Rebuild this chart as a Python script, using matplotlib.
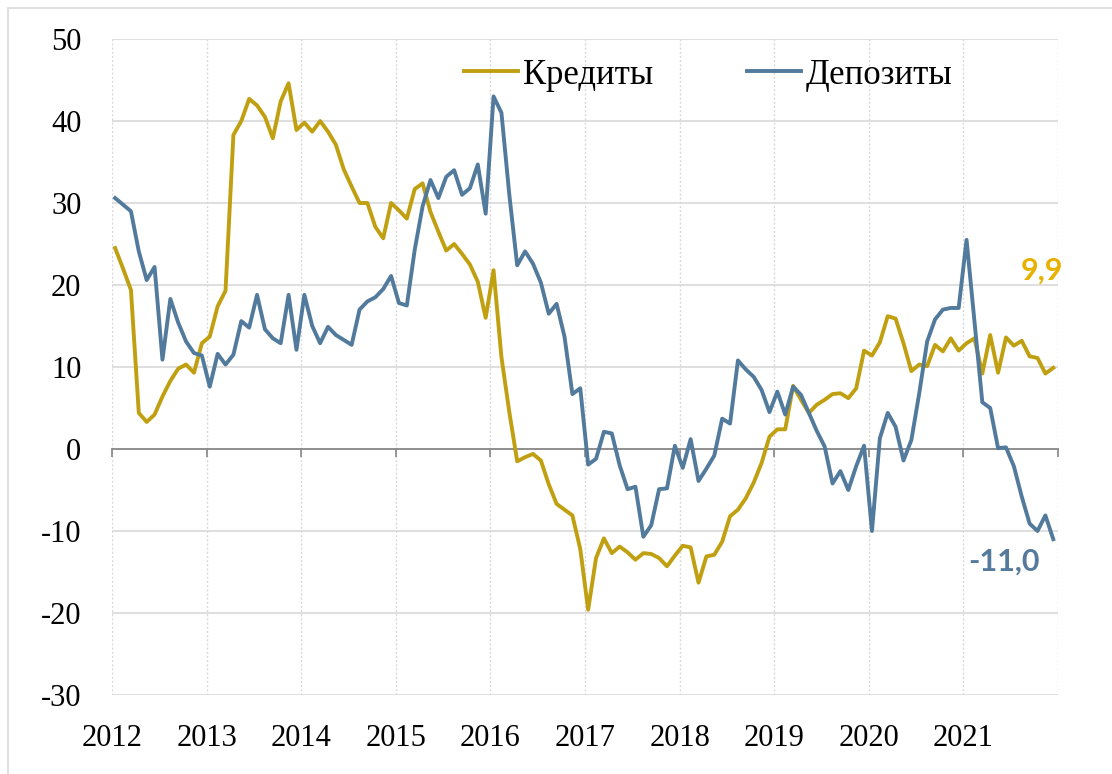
import numpy as np
import matplotlib.pyplot as plt
from matplotlib.patches import Rectangle

# -------------------
# DATA (monthly, y/y %, Jan 2012 .. Dec 2021)
# -------------------
years = [str(y) for y in range(2012, 2022)]

credits = [
    24.5, 22.0, 19.4, 4.4, 3.3, 4.2, 6.4, 8.3, 9.8, 10.3, 9.3, 12.9,
    13.7, 17.4, 19.3, 38.3, 40.0, 42.7, 41.9, 40.5, 37.9, 42.4, 44.6, 38.9,
    39.8, 38.7, 40.0, 38.7, 37.1, 34.1, 32.0, 30.0, 30.0, 27.1, 25.7, 30.0,
    29.1, 28.1, 31.7, 32.4, 28.9, 26.5, 24.2, 25.0, 23.8, 22.5, 20.4, 16.0,
    21.8, 11.2, 4.5, -1.5, -1.0, -0.6, -1.4, -4.3, -6.7, -7.4, -8.1, -12.2,
    -19.6, -13.3, -10.9, -12.7, -11.9, -12.6, -13.5, -12.7, -12.8, -13.3, -14.3, -13.0,
    -11.8, -12.0, -16.3, -13.1, -12.9, -11.3, -8.2, -7.4, -6.0, -4.1, -1.7, 1.5,
    2.4, 2.4, 7.7, 6.0, 4.4, 5.4, 6.0, 6.7, 6.8, 6.2, 7.4, 12.0,
    11.4, 13.0, 16.2, 15.9, 12.9, 9.5, 10.3, 10.1, 12.7, 11.9, 13.5, 12.0,
    12.9, 13.5, 9.2, 13.9, 9.3, 13.6, 12.6, 13.2, 11.3, 11.1, 9.2, 9.9,
]

deposits = [
    30.6, 29.8, 29.0, 24.1, 20.6, 22.2, 10.9, 18.3, 15.4, 13.1, 11.7, 11.4,
    7.6, 11.6, 10.3, 11.5, 15.6, 14.8, 18.8, 14.6, 13.5, 12.9, 18.8, 12.1,
    18.8, 15.0, 12.9, 14.9, 13.9, 13.3, 12.7, 17.0, 18.0, 18.5, 19.5, 21.1,
    17.8, 17.5, 24.3, 29.6, 32.8, 30.6, 33.2, 34.0, 31.0, 31.8, 34.7, 28.7,
    43.0, 41.0, 31.0, 22.4, 24.1, 22.6, 20.3, 16.5, 17.7, 13.7, 6.7, 7.4,
    -1.9, -1.2, 2.1, 1.9, -2.0, -4.9, -4.6, -10.7, -9.3, -4.9, -4.8, 0.4,
    -2.3, 1.2, -3.9, -2.4, -0.8, 3.7, 3.1, 10.8, 9.7, 8.8, 7.2, 4.5,
    7.0, 4.2, 7.6, 6.6, 4.4, 2.2, 0.3, -4.2, -2.7, -5.0, -2.1, 0.4,
    -10.0, 1.3, 4.4, 2.7, -1.4, 1.1, 6.8, 13.1, 15.8, 17.0, 17.2, 17.2,
    25.5, 15.6, 5.7, 5.0, 0.1, 0.2, -2.1, -5.8, -9.1, -10.0, -8.1, -11.0,
]

# -------------------
# STYLE
# -------------------
C_CRED = '#C0A010'
C_DEP = '#527A9C'
C_CRED_LBL = '#E8B100'
C_DEP_LBL = '#557A9C'
GRID = '#D9D9D9'
AXIS = '#868686'

plt.rcParams['font.family'] = ['Liberation Serif', 'DejaVu Serif']
plt.rcParams['axes.unicode_minus'] = False

x = np.arange(len(credits)) + 0.4   # points sit slightly right of the year ticks
n_months = 12 * len(years)

fig = plt.figure(figsize=(11.12, 7.74), dpi=100)
ax = fig.add_axes([112 / 1112, 1 - 695 / 774, (1058 - 112) / 1112, (695 - 39) / 774])

# outer chart border (only top/left visible in reference)
fig.patches.append(Rectangle((8 / 1112, -0.05), 1.2, 1 - 8 / 774 + 0.05,
                             transform=fig.transFigure, fill=False,
                             edgecolor='#D9D9D9', linewidth=1.2, clip_on=False))

ax.set_xlim(0, n_months)
ax.set_ylim(-30, 50)

# grid
for yv in range(-30, 51, 10):
    if yv != 0:
        ax.axhline(yv, color=GRID, linewidth=1.2, zorder=0)
for xv in range(0, n_months + 1, 12):
    ax.axvline(xv, color=GRID, linewidth=1.0, linestyle=(0, (1.5, 1.5)), zorder=0)

# lines
ax.plot(x, credits, color=C_CRED, linewidth=2.8, label='Кредиты', zorder=3,
        solid_joinstyle='round')
ax.plot(x, deposits, color=C_DEP, linewidth=2.8, label='Депозиты', zorder=3,
        solid_joinstyle='round')

# axes: zero line carries the ticks, labels sit at the bottom
for s in ['left', 'right', 'top']:
    ax.spines[s].set_visible(False)
ax.spines['bottom'].set_position(('data', 0))
ax.spines['bottom'].set_color(AXIS)
ax.spines['bottom'].set_linewidth(1.3)
ax.spines['bottom'].set_zorder(2)
ax.set_xticks(range(0, n_months + 1, 12))
ax.tick_params(axis='x', direction='out', length=6, width=1.2, color=AXIS,
               labelbottom=False)

sec = ax.secondary_xaxis('bottom')
sec.set_xticks(range(0, n_months, 12), labels=years)
sec.tick_params(length=0, pad=21, labelsize=22)
sec.spines['bottom'].set_visible(False)

ax.set_yticks(range(-30, 51, 10))
ax.tick_params(axis='y', length=0, pad=22, labelsize=22)

# legend
leg = ax.legend(loc='center left', bbox_to_anchor=(464 / 1112, 1 - 75 / 774),
                bbox_transform=fig.transFigure, ncol=2, frameon=False,
                fontsize=25, handlelength=1.55, handletextpad=0.15,
                columnspacing=2.7, borderpad=0, borderaxespad=0)

# end-value labels
ax.text(118.0, 21.8, f"{credits[-1]:.1f}".replace('.', ','), color=C_CRED_LBL,
        fontsize=22, fontweight='bold', family=['Lato', 'DejaVu Sans'],
        ha='center', va='center')
ax.text(113.2, -13.7, f"{deposits[-1]:.1f}".replace('.', ','), color=C_DEP_LBL,
        fontsize=22, fontweight='bold', family=['Lato', 'DejaVu Sans'],
        ha='center', va='center')

fig.savefig('out.png', dpi=100, facecolor='white')
